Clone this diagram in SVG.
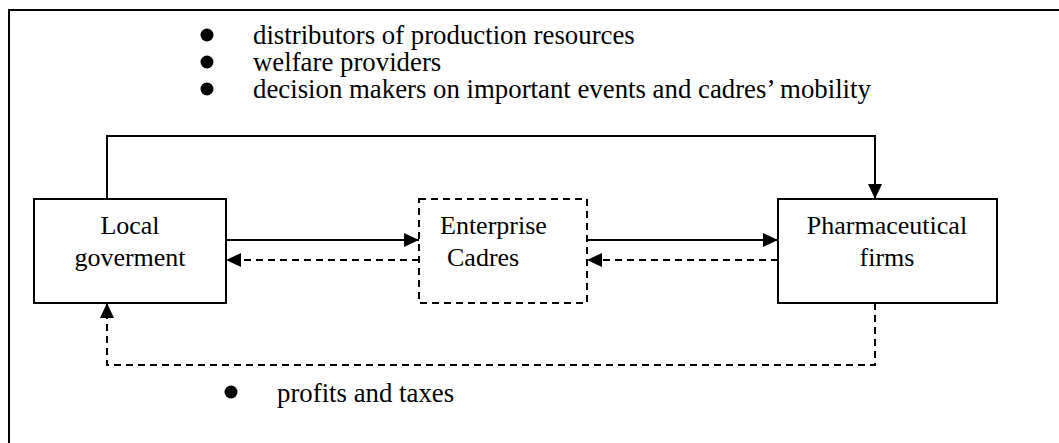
<svg xmlns="http://www.w3.org/2000/svg" width="1059" height="443" viewBox="0 0 1059 443">
  <defs>
    <style>
      .frame { fill: none; stroke: #000; stroke-width: 2; }
      .box { fill: #fff; stroke: #000; stroke-width: 2; }
      .box.dashed { stroke-dasharray: 7 5; }
      .link { fill: none; stroke: #000; stroke-width: 2; }
      .link.dashed { stroke-dasharray: 7 5; }
      .c { text-anchor: middle; }
      .dot { fill: #000; }
      .item { font-size: 26.8px; }
    </style>
    <marker id="arrow" viewBox="0 0 15 14" refX="15" refY="7" markerWidth="15" markerHeight="14" markerUnits="userSpaceOnUse" orient="auto">
      <path d="M0,0 L15,7 L0,14 Z" fill="#000"/>
    </marker>
  </defs>

  <rect width="1059" height="443" fill="#fff"/>

  <!-- outer frame: open on the right and bottom -->
  <path class="frame" d="M9,443 V10 H1059"/>

  <g font-family="'Liberation Serif', 'Times New Roman', serif" font-size="26" fill="#000">

    <!-- roles of the local government -->
    <g id="roles">
      <circle class="dot" cx="207" cy="35" r="6.5"/>
      <circle class="dot" cx="207" cy="62" r="6.5"/>
      <circle class="dot" cx="207" cy="89" r="6.5"/>
      <text class="item" x="253" y="44">distributors of production resources</text>
      <text class="item" x="253" y="71">welfare providers</text>
      <text class="item" x="253" y="98">decision makers on important events and cadres’ mobility</text>
    </g>

    <!-- connectors -->
    <g id="connectors">
      <path class="link" d="M107,199 V136 H875 V199" marker-end="url(#arrow)"/>
      <path class="link" d="M226,240 H419" marker-end="url(#arrow)"/>
      <path class="link dashed" d="M419,260 H226" marker-end="url(#arrow)"/>
      <path class="link" d="M587,240 H778" marker-end="url(#arrow)"/>
      <path class="link dashed" d="M778,260 H587" marker-end="url(#arrow)"/>
      <path class="link dashed" d="M875,303 V365 H107 V303" marker-end="url(#arrow)"/>
    </g>

    <!-- nodes -->
    <g id="local-government">
      <rect class="box" x="34" y="199" width="192" height="104"/>
      <text class="c" x="130" y="234">Local</text>
      <text class="c" x="130" y="266">goverment</text>
    </g>

    <g id="enterprise-cadres">
      <rect class="box dashed" x="419" y="199" width="168" height="104"/>
      <text x="440" y="234">Enterprise</text>
      <text x="447" y="266">Cadres</text>
    </g>

    <g id="pharmaceutical-firms">
      <rect class="box" x="778" y="199" width="219" height="104"/>
      <text class="c" x="887" y="234">Pharmaceutical</text>
      <text class="c" x="887" y="266">firms</text>
    </g>

    <!-- what flows back to the local government -->
    <g id="returns">
      <circle class="dot" cx="231" cy="392" r="6.5"/>
      <text class="item" x="277" y="402">profits and taxes</text>
    </g>
  </g>
</svg>
